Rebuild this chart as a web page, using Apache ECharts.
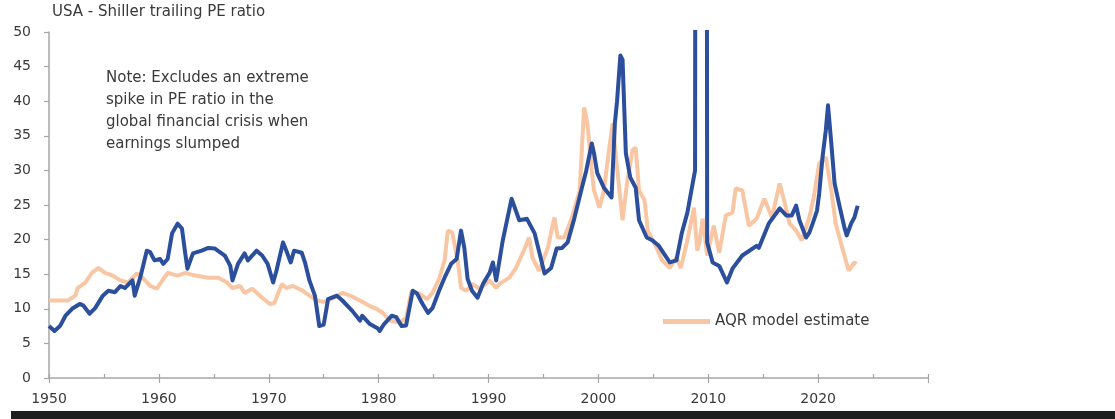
<!DOCTYPE html>
<html>
<head>
<meta charset="utf-8">
<script src="https://cdn.jsdelivr.net/npm/echarts@6/dist/echarts.min.js"></script>
<style>
html,body{margin:0;padding:0;background:#fff;}
#chart{width:1115px;height:419px;}
</style>
</head>
<body>
<div id="chart"></div>
<script>
const titleText = 'USA - Shiller trailing PE ratio';
const noteLines = ['Note: Excludes an extreme', 'spike in PE ratio in the', 'global financial crisis when', 'earnings slumped'];
const seriesNames = ['Shiller trailing PE', 'AQR model estimate'];
const yTicks = [0, 5, 10, 15, 20, 25, 30, 35, 40, 45, 50];
const xLabelYears = [1950, 1960, 1970, 1980, 1990, 2000, 2010, 2020];

const shillerYears = [1950.0,1950.5,1951.0,1951.5,1952.1,1952.8,1953.1,1953.7,1954.2,1954.9,1955.4,1956.0,1956.5,1956.9,1957.4,1957.6,1957.8,1958.3,1958.9,1959.2,1959.6,1960.1,1960.4,1960.8,1961.2,1961.7,1962.1,1962.4,1962.6,1963.1,1963.9,1964.5,1965.1,1966.0,1966.5,1966.7,1967.2,1967.8,1968.1,1968.9,1969.4,1969.9,1970.4,1970.7,1971.3,1971.6,1972.0,1972.3,1973.0,1973.3,1973.7,1974.2,1974.6,1975.0,1975.4,1976.2,1976.7,1977.6,1978.3,1978.5,1979.2,1979.9,1980.1,1980.5,1981.2,1981.6,1982.1,1982.5,1983.1,1983.5,1984.0,1984.5,1984.9,1985.5,1986.0,1986.6,1987.1,1987.5,1987.8,1988.1,1988.5,1989.0,1989.5,1990.1,1990.4,1990.7,1991.3,1992.1,1992.8,1993.5,1994.2,1995.1,1995.7,1996.2,1996.7,1997.2,1997.8,1998.5,1998.9,1999.4,1999.6,1999.9,2000.5,2001.2,2001.5,2001.7,2002.0,2002.2,2002.5,2002.9,2003.4,2003.7,2004.4,2004.9,2005.5,2006.5,2007.1,2007.6,2008.1,2008.5,2008.8,2008.9,2009.8,2009.9,2010.4,2011.0,2011.7,2012.2,2013.1,2014.4,2014.6,2015.5,2016.5,2017.1,2017.6,2018.0,2018.3,2018.9,2019.2,2019.5,2019.9,2020.1,2020.4,2020.7,2020.9,2021.2,2021.5,2021.9,2022.4,2022.6,2023.0,2023.3,2023.6];
const shillerValues = [7.5,6.8,7.5,9.0,10.0,10.7,10.5,9.3,10.1,11.9,12.6,12.4,13.3,13.0,13.8,14.1,11.9,14.5,18.4,18.2,17.0,17.2,16.5,17.2,20.9,22.3,21.6,18.0,15.8,18.0,18.4,18.8,18.7,17.7,16.2,14.1,16.5,18.0,17.0,18.4,17.7,16.5,13.8,15.5,19.6,18.4,16.7,18.4,18.1,16.7,14.1,11.9,7.5,7.7,11.4,11.9,11.2,9.7,8.3,9.0,7.8,7.2,6.8,7.8,9.0,8.8,7.5,7.6,12.6,12.2,10.7,9.4,10.1,12.6,14.5,16.5,17.2,21.3,18.8,14.3,12.6,11.6,13.6,15.2,16.7,14.1,19.9,25.9,22.8,23.0,20.9,15.1,15.9,18.7,18.8,19.6,23.0,27.5,30.0,33.9,32.5,29.6,27.5,26.1,36.8,40.0,46.6,46.0,32.5,29.0,27.5,22.8,20.3,19.9,19.1,16.7,17.0,21.0,23.9,27.4,30.0,200,200,19.6,16.7,16.2,13.8,15.8,17.7,19.1,18.8,22.3,24.5,23.5,23.5,24.9,22.8,20.3,21.0,22.3,24.2,26.7,31.9,35.8,39.4,33.9,28.1,25.2,21.7,20.6,22.3,23.2,24.9];

const aqrYears = [1950.0,1951.7,1952.4,1952.6,1953.3,1953.9,1954.5,1955.1,1955.8,1956.5,1957.2,1958.0,1958.5,1959.2,1959.8,1960.4,1960.8,1961.7,1962.4,1963.3,1964.5,1965.4,1966.2,1966.7,1967.4,1967.8,1968.5,1969.4,1970.1,1970.5,1971.2,1971.6,1972.2,1973.1,1973.7,1974.4,1975.0,1975.8,1976.7,1977.4,1978.3,1979.2,1979.8,1980.4,1981.0,1981.9,1982.5,1983.0,1983.7,1984.4,1984.9,1985.5,1986.0,1986.3,1986.7,1987.2,1987.5,1988.0,1988.5,1989.2,1990.1,1990.7,1991.0,1991.9,1992.5,1993.1,1993.7,1994.0,1994.6,1995.4,1996.0,1996.3,1996.9,1997.6,1998.3,1998.7,1999.0,1999.4,1999.6,2000.1,2000.5,2001.0,2001.3,2001.7,2002.2,2002.6,2003.1,2003.4,2003.7,2004.2,2004.5,2005.3,2005.8,2006.5,2007.1,2007.5,2008.1,2008.7,2009.0,2009.2,2009.5,2009.9,2010.5,2011.0,2011.6,2012.2,2012.5,2013.1,2013.7,2014.4,2015.1,2015.8,2016.5,2016.9,2017.4,2018.0,2018.5,2019.2,2019.6,2020.1,2020.7,2021.2,2021.6,2022.2,2022.6,2022.8,2023.3,2023.5];
const aqrValues = [11.2,11.2,11.9,13.0,13.8,15.2,15.9,15.2,14.8,14.1,13.8,15.1,14.5,13.3,12.9,14.3,15.2,14.8,15.2,14.8,14.5,14.5,13.8,13.0,13.3,12.3,12.9,11.6,10.7,10.8,13.6,13.0,13.3,12.6,11.9,11.2,11.0,11.5,12.3,11.9,11.2,10.4,10.0,9.4,8.3,8.0,8.7,12.6,12.2,11.4,12.3,14.3,17.0,21.3,21.0,17.0,13.0,12.6,13.6,12.9,14.1,13.0,13.6,14.5,15.9,18.0,20.3,17.4,15.5,18.8,23.2,20.3,20.3,23.2,27.1,39.1,36.8,30.0,27.1,24.6,27.1,33.3,36.8,30.4,22.8,28.1,32.9,33.3,27.1,25.7,21.3,18.8,17.0,15.9,17.4,15.9,19.9,24.6,18.4,19.6,23.0,17.7,22.0,18.1,23.5,23.9,27.4,27.1,22.0,23.0,25.9,23.2,28.1,25.7,22.3,21.3,19.9,23.2,26.1,31.0,31.9,27.1,22.3,18.8,16.5,15.5,16.7,16.5];

const shillerData = shillerYears.map((y, i) => [y, shillerValues[i]]);
const aqrData = aqrYears.map((y, i) => [y, aqrValues[i]]);

const FONT = 'DejaVu Sans';
const TXT = '#3a3a3a';
const AXIS = '#a6a6a6';

const chart = echarts.init(document.getElementById('chart'), null, {renderer: 'canvas'});
chart.setOption({
  animation: false,
  backgroundColor: '#ffffff',
  grid: {left: 49, right: 187, top: 32, bottom: 41},
  legend: {
    data: [seriesNames[1]],
    left: 658, top: 309,
    icon: 'rect', itemWidth: 47, itemHeight: 5,
    textStyle: {fontFamily: FONT, fontSize: 15, color: TXT}
  },
  xAxis: [{
    type: 'value', min: 1950, max: 2030, interval: 5, position: 'bottom',
    splitLine: {show: false},
    axisLine: {lineStyle: {color: AXIS, width: 1.5}},
    axisTick: {inside: true, length: 4, lineStyle: {color: AXIS, width: 1.2}},
    axisLabel: {
      margin: 14, fontFamily: FONT, fontSize: 14, color: TXT,
      formatter: v => xLabelYears.indexOf(v) >= 0 ? String(v) : ''
    }
  }, {
    type: 'value', min: 1950, max: 2030, interval: 10, position: 'bottom',
    splitLine: {show: false},
    axisLine: {show: false},
    axisTick: {inside: false, length: 5, lineStyle: {color: AXIS, width: 1.2}},
    axisLabel: {show: false}
  }],
  yAxis: {
    type: 'value', min: yTicks[0], max: yTicks[yTicks.length - 1], interval: 5,
    splitLine: {show: false},
    axisLine: {show: true, lineStyle: {color: AXIS, width: 1.5}},
    axisTick: {show: true, inside: false, length: 5, lineStyle: {color: AXIS, width: 1.2}},
    axisLabel: {margin: 18, fontFamily: FONT, fontSize: 14, color: TXT}
  },
  series: [{
    name: seriesNames[1], type: 'line', data: aqrData, showSymbol: false, symbol: 'none',
    lineStyle: {color: '#f8c6a3', width: 4}, itemStyle: {color: '#f8c6a3'}, z: 2, clip: true
  }, {
    name: seriesNames[0], type: 'line', data: shillerData, showSymbol: false, symbol: 'none',
    lineStyle: {color: '#2b4f9c', width: 4, join: 'round'}, itemStyle: {color: '#2b4f9c'}, z: 3, clip: true
  }],
  graphic: [{
    type: 'text', left: 52, top: 5,
    style: {text: titleText, fontFamily: FONT, fontSize: 15, fill: TXT}
  }, {
    type: 'text', left: 106, top: 67,
    style: {text: noteLines.join('\n'), fontFamily: FONT, fontSize: 15, lineHeight: 22, fill: TXT}
  }, {
    type: 'rect', left: 11, top: 411,
    shape: {width: 1104, height: 8}, style: {fill: '#1e1e1e'}
  }]
});
</script>
</body>
</html>
